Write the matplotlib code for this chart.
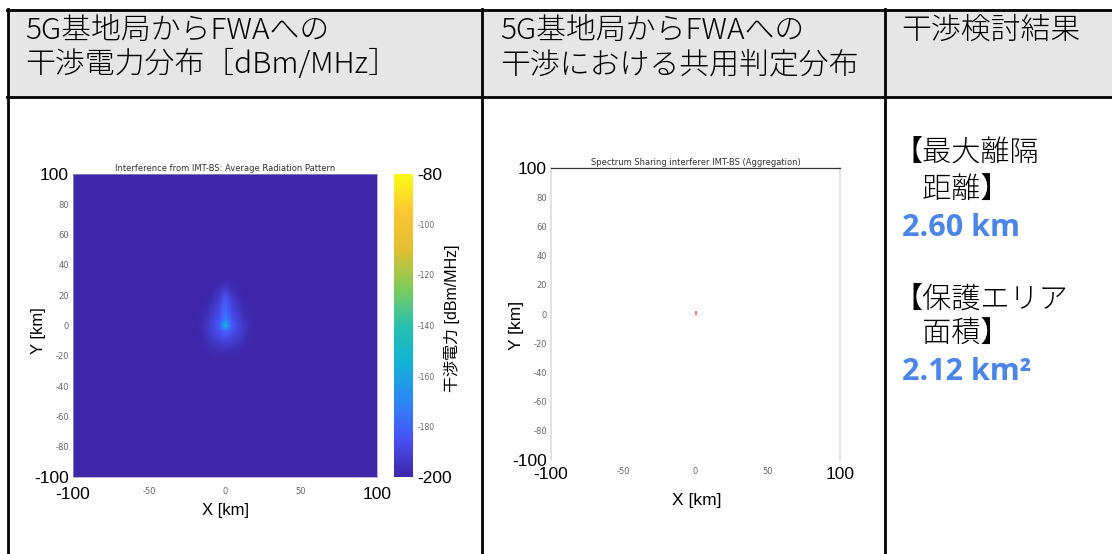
import numpy as np
import matplotlib.pyplot as plt
from matplotlib.colors import LinearSegmentedColormap, Normalize

# =========================
# DATA
# =========================
HEAD_COL1 = ["5G基地局からFWAへの", "干渉電力分布［dBm/MHz］"]
HEAD_COL2 = ["5G基地局からFWAへの", "干渉における共用判定分布"]
HEAD_COL3 = ["干渉検討結果"]

DIST_LABEL = ["【最大離隔", "　距離】"]
DIST_VALUE = 2.60
AREA_LABEL = ["【保護エリア", "　面積】"]
AREA_VALUE = 2.12

TITLE_POWER = "Interference from IMT-BS: Average Radiation Pattern"
TITLE_SHARE = "Spectrum Sharing interferer IMT-BS (Aggregation)"

# interference power around the base station [dBm/MHz], coarse read-off
FIELD_X = [-20, -16, -12, -8, -4, 0, 4, 8, 12, 16, 20]
FIELD_Y = [32, 28, 24, 20, 16, 12, 8, 4, 0, -4, -8, -12, -16, -20, -24]
FIELD_DBM = [
    [-200, -200, -200, -200, -200, -200, -200, -200, -200, -200, -200],
    [-200, -200, -200, -200, -199, -197, -199, -200, -200, -200, -200],
    [-200, -200, -200, -199, -197, -192, -197, -199, -200, -200, -200],
    [-200, -200, -200, -198, -194, -186, -194, -198, -200, -200, -200],
    [-200, -200, -199, -196, -191, -182, -191, -196, -199, -200, -200],
    [-200, -200, -198, -194, -189, -179, -189, -194, -198, -200, -200],
    [-200, -199, -197, -192, -187, -176, -187, -192, -197, -199, -200],
    [-200, -199, -195, -190, -185, -172, -185, -190, -195, -199, -200],
    [-200, -198, -194, -189, -182, -152, -182, -189, -194, -198, -200],
    [-200, -199, -195, -190, -186, -180, -186, -190, -195, -199, -200],
    [-200, -199, -196, -192, -189, -187, -189, -192, -196, -199, -200],
    [-200, -200, -198, -195, -193, -192, -193, -195, -198, -200, -200],
    [-200, -200, -199, -198, -197, -196, -197, -198, -199, -200, -200],
    [-200, -200, -200, -199, -199, -199, -199, -199, -200, -200, -200],
    [-200, -200, -200, -200, -200, -200, -200, -200, -200, -200, -200],
]
BG_DBM = -200
CBAR_MIN, CBAR_MAX = -200, -80
CBAR_TICKS = [-80, -100, -120, -140, -160, -180, -200]

# sharing judgement: cells where sharing fails
SHARE_X = [0.0, 0.0]
SHARE_Y = [0.0, 1.2]

XTICKS = [-100, -50, 0, 50, 100]
YTICKS = [100, 80, 60, 40, 20, 0, -20, -40, -60, -80, -100]

# =========================
# STYLE
# =========================
W, H = 1112, 554
JP = ["Noto Sans CJK JP", "DejaVu Sans"]
NUM = ["Open Sans", "Noto Sans CJK JP"]
ARIAL = ["Liberation Sans", "Noto Sans CJK JP"]
BLUE = "#4a86e8"
GRID_LW = 2.0

parula = LinearSegmentedColormap.from_list("parula", [
    (0.000, (0.2422, 0.1504, 0.6603)),
    (0.125, (0.2810, 0.3228, 0.9579)),
    (0.250, (0.1786, 0.5289, 0.9682)),
    (0.375, (0.0689, 0.6948, 0.8394)),
    (0.500, (0.1500, 0.7600, 0.6800)),
    (0.625, (0.5000, 0.8000, 0.3500)),
    (0.750, (0.8800, 0.7500, 0.2000)),
    (0.875, (0.9900, 0.7800, 0.2000)),
    (1.000, (0.9769, 0.9839, 0.0805)),
])
norm = Normalize(CBAR_MIN, CBAR_MAX)

fig = plt.figure(figsize=(W / 100, H / 100), dpi=100)


def px_axes(x0, y0, x1, y1):
    return fig.add_axes([x0 / W, 1 - y1 / H, (x1 - x0) / W, (y1 - y0) / H])


# =========================
# TABLE
# =========================
bg = px_axes(0, 0, W, H)
bg.set_xlim(0, W)
bg.set_ylim(H, 0)
bg.axis("off")

bg.fill_between([8, W], 10, 97, color="#e6e6e6", lw=0)
for y in [10, 97]:
    bg.plot([7, W], [y, y], color="black", lw=GRID_LW)
for x in [8, 482, 885]:
    bg.plot([x, x], [9, H], color="black", lw=GRID_LW)

for col_x, lines in [(25, HEAD_COL1), (500, HEAD_COL2), (901, HEAD_COL3)]:
    for i, line in enumerate(lines):
        bg.text(col_x, 31 + 34 * i, line, fontsize=21.5, family=JP,
                weight="light", ha="left", va="center")

for i, line in enumerate(DIST_LABEL):
    bg.text(893, 153 + 37 * i, line, fontsize=21, family=JP,
            weight="light", va="center")
bg.text(902, 228, f"{DIST_VALUE:.2f} km", fontsize=22, family=NUM,
        weight="bold", color=BLUE, va="center")
for i, line in enumerate(AREA_LABEL):
    bg.text(893, 300 + 35 * i, line, fontsize=21, family=JP,
            weight="light", va="center")
bg.text(902, 372, f"{AREA_VALUE:.2f} km²", fontsize=22, family=NUM,
        weight="bold", color=BLUE, va="center")


def style_ticks(ax, xpad, ypad):
    ax.set_xticks(XTICKS, [str(v) for v in XTICKS])
    ax.set_yticks(YTICKS, [str(v) for v in YTICKS])
    ax.tick_params(length=0)
    ax.tick_params(axis="x", pad=xpad)
    ax.tick_params(axis="y", pad=ypad)
    for lab in ax.get_xticklabels() + ax.get_yticklabels():
        if lab.get_text() in ("100", "-100"):
            lab.set_fontsize(12.5)
            lab.set_family(ARIAL)
            lab.set_color("black")
        else:
            lab.set_fontsize(6)
            lab.set_color("#666666")


# =========================
# INTERFERENCE POWER MAP
# =========================
ax1 = px_axes(73, 174, 377, 477)
ax1.set_facecolor(parula(norm(BG_DBM)))
dx = (FIELD_X[1] - FIELD_X[0]) / 2
dy = (FIELD_Y[0] - FIELD_Y[1]) / 2
im = ax1.imshow(np.array(FIELD_DBM), cmap=parula, norm=norm,
                interpolation="bilinear", aspect="auto",
                extent=[FIELD_X[0] - dx, FIELD_X[-1] + dx,
                        FIELD_Y[-1] - dy, FIELD_Y[0] + dy])
ax1.set_xlim(-100, 100)
ax1.set_ylim(-100, 100)
for sp in ax1.spines.values():
    sp.set_color("#9a96c8")
    sp.set_linewidth(0.5)
style_ticks(ax1, 7, 3)
ax1.set_title(TITLE_POWER, fontsize=6, color="#333333", pad=2)

cax = px_axes(394, 174, 413, 477)
cb = fig.colorbar(im, cax=cax)
cb.outline.set_visible(False)
cb.set_ticks(CBAR_TICKS, labels=[str(v) for v in CBAR_TICKS])
cax.tick_params(length=0, pad=3)
for lab in cax.get_yticklabels():
    if lab.get_text() in ("-80", "-200"):
        lab.set_fontsize(12.5)
        lab.set_family(ARIAL)
    else:
        lab.set_fontsize(5.5)
        lab.set_color("#666666")

bg.text(452, 318, "干渉電力 [dBm/MHz]", fontsize=11.5, family=ARIAL,
        rotation=90, ha="center", va="center")
bg.text(225, 510, "X [km]", fontsize=12, family=ARIAL, ha="center", va="center")
bg.text(39, 331, "Y [km]", fontsize=12, family=ARIAL, rotation=90,
        ha="center", va="center")

# =========================
# SHARING JUDGEMENT MAP
# =========================
ax2 = px_axes(551, 168, 840, 460)
ax2.scatter(SHARE_X, SHARE_Y, s=3, color="#ff7070", marker="s", lw=0)
ax2.set_xlim(-100, 100)
ax2.set_ylim(-100, 100)
ax2.spines["bottom"].set_visible(False)
ax2.spines["top"].set_color("#333333")
ax2.spines["top"].set_linewidth(0.9)
for side in ["left", "right"]:
    ax2.spines[side].set_color("#dddddd")
    ax2.spines[side].set_linewidth(1.2)
style_ticks(ax2, 5, 3)
ax2.set_title(TITLE_SHARE, fontsize=6, color="#333333", pad=2)

bg.text(697, 501, "X [km]", fontsize=12.5, family=ARIAL, ha="center", va="center")
bg.text(517, 325, "Y [km]", fontsize=12.5, family=ARIAL, rotation=90,
        ha="center", va="center")

fig.savefig("out.png", dpi=100)
